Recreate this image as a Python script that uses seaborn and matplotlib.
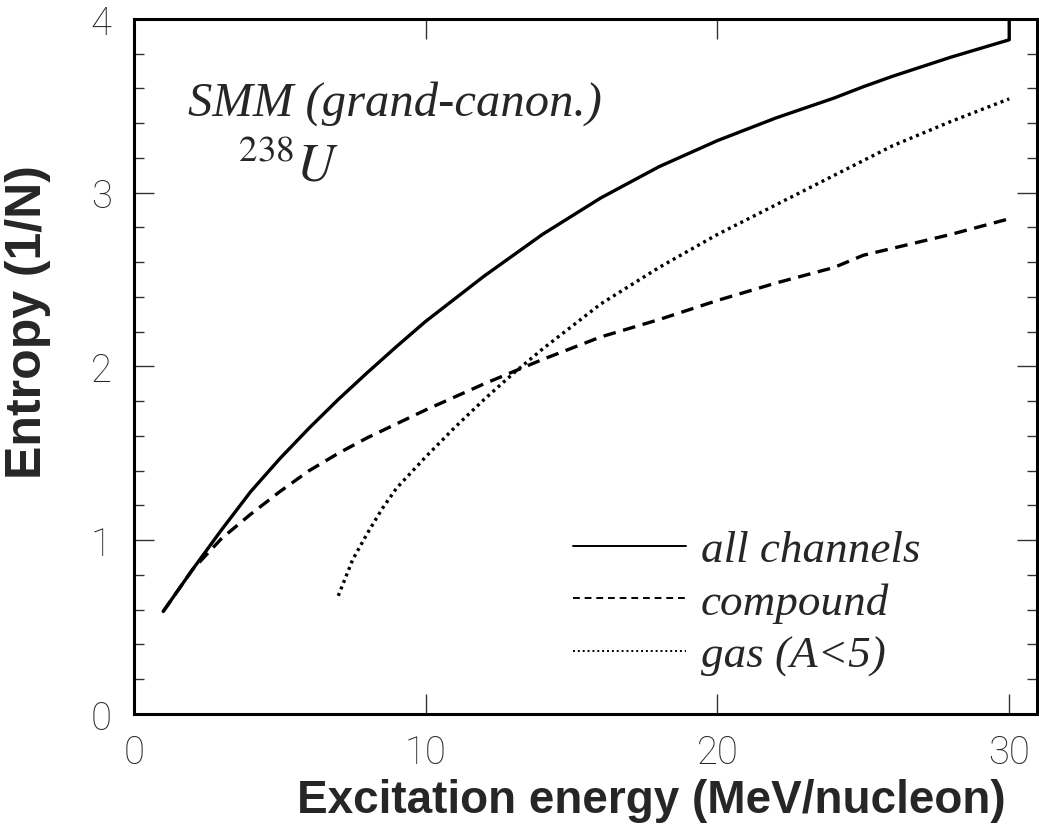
import numpy as np
import pandas as pd
import matplotlib
matplotlib.use("Agg")
import matplotlib.pyplot as plt
from matplotlib.ticker import MultipleLocator
import seaborn as sns

# values
x_all = [1, 2, 3, 4, 5, 6, 7, 8, 9, 10, 12, 14, 16, 18, 20, 22, 24, 25, 26, 28, 30, 30]
s_all = [0.59, 0.83, 1.06, 1.28, 1.47, 1.645, 1.81, 1.965, 2.115, 2.26, 2.52, 2.76, 2.97,
         3.15, 3.30, 3.43, 3.545, 3.61, 3.67, 3.78, 3.88, 4.0]

x_comp = [1, 2, 3, 4, 5, 6, 7, 8, 9, 10, 12, 14, 16, 18, 20, 22, 24, 25, 26, 28, 30]
s_comp = [0.59, 0.83, 1.01, 1.15, 1.28, 1.40, 1.50, 1.59, 1.67, 1.75, 1.90, 2.04, 2.17,
          2.27, 2.38, 2.48, 2.57, 2.64, 2.68, 2.76, 2.85]

x_gas = [7, 7.5, 8, 8.5, 9, 10, 11, 12, 13, 14, 16, 18, 20, 22, 24, 26, 28, 30]
s_gas = [0.68, 0.89, 1.04, 1.18, 1.30, 1.48, 1.65, 1.81, 1.96, 2.10, 2.36, 2.57, 2.76,
         2.93, 3.10, 3.27, 3.41, 3.54]

labels = ["all channels", "compound", "gas (A<5)"]
x_ticks = [0, 10, 20, 30]
y_ticks = [0, 1, 2, 3, 4]

sns.set_style("ticks")
plt.rcParams["mathtext.fontset"] = "stix"

fig = plt.figure(figsize=(10.39, 8.28), dpi=100)
ax = fig.add_axes([0.129, 0.1365, 0.869, 0.8394])

df_all = pd.DataFrame({"E": x_all, "S": s_all})
df_comp = pd.DataFrame({"E": x_comp, "S": s_comp})
df_gas = pd.DataFrame({"E": x_gas, "S": s_gas})

sns.lineplot(data=df_all, x="E", y="S", ax=ax, color="black", lw=2.4,
             estimator=None, sort=False, label=labels[0])
sns.lineplot(data=df_comp, x="E", y="S", ax=ax, color="black", lw=2.4,
             estimator=None, sort=False, label=labels[1])
sns.lineplot(data=df_gas, x="E", y="S", ax=ax, color="black", lw=2.4,
             estimator=None, sort=False, label=labels[2])
lines = ax.get_lines()
lines[1].set_dashes([3.8, 2.3])
lines[2].set_dashes([0.9, 1.2])

ax.set_xlim(0, 30.95)
ax.set_ylim(0, 4)
ax.set_xticks(x_ticks)
ax.set_yticks(y_ticks)
ax.yaxis.set_minor_locator(MultipleLocator(0.2))
ax.tick_params(which="both", direction="in", top=True, right=True, width=1.0, color="#333333")
ax.tick_params(which="major", length=14.5)
ax.tick_params(which="minor", length=7.5)
ax.tick_params(axis="x", pad=14)
ax.tick_params(axis="y", pad=16)
for lab in ax.get_xticklabels() + ax.get_yticklabels():
    lab.set_fontfamily(["Roboto", "DejaVu Sans"])
    lab.set_fontweight("light")
    lab.set_fontsize(27.5)
for sp in ax.spines.values():
    sp.set_linewidth(2.2)
    sp.set_color("black")

ax.set_xlabel("Excitation energy (MeV/nucleon)", fontsize=33, fontweight="bold",
              family=["Liberation Sans", "DejaVu Sans"])
ax.set_ylabel("Entropy (1/N)", fontsize=36, fontweight="bold",
              family=["Liberation Sans", "DejaVu Sans"])
ax.xaxis.set_label_coords(0.573, -0.092)
ax.yaxis.set_label_coords(-0.092, 0.565)

ax.text(1.85, 3.45, "SMM (grand-canon.)", fontsize=35, style="italic",
        family=["Liberation Serif"], va="baseline")
ax.text(3.56, 3.07, r"$\mathit{^{238}U}$", fontsize=38, va="baseline")

leg = ax.legend(loc="upper left", bbox_to_anchor=(0.486, 0.265), frameon=False,
                prop={"family": "Liberation Serif", "style": "italic", "size": 32.5},
                handlelength=2.5, handletextpad=0.33, labelspacing=0.27, borderpad=0,
                borderaxespad=0)
for ln in leg.get_lines():
    ln.set_linewidth(1.4)
leg.get_lines()[1].set_dashes([3.5, 2.5])
leg.get_lines()[2].set_dashes([1, 1.5])

fig.savefig("out.png", dpi=100)
